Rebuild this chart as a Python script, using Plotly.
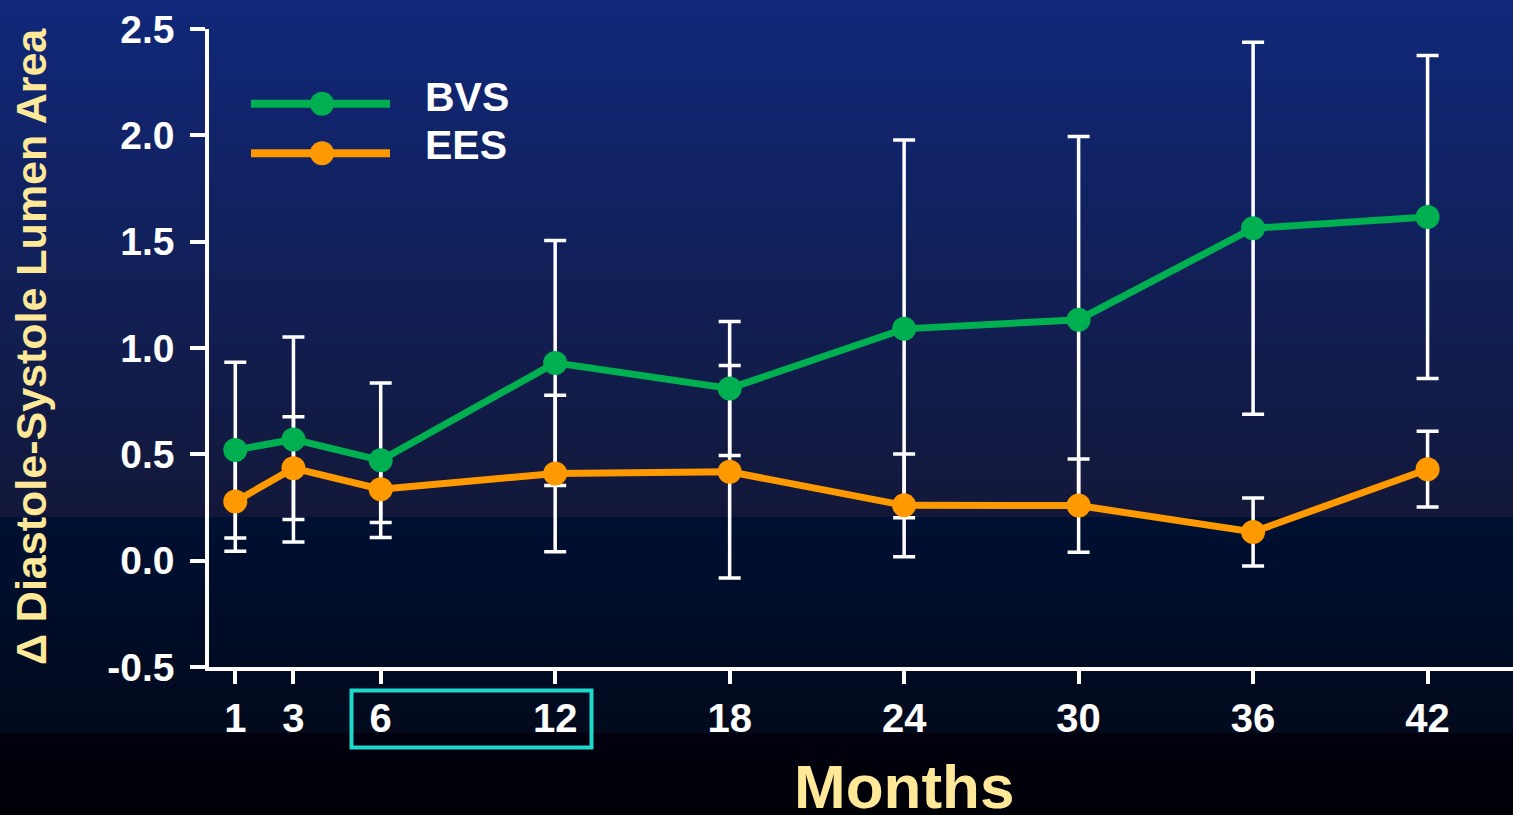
import plotly.graph_objects as go

# Follow-up time points (months)
months = [1, 3, 6, 12, 18, 24, 30, 36, 42]
tick_labels = ["1", "3", "6", "12", "18", "24", "30", "36", "42"]

# Mean change in diastole-systole lumen area and its SD, per device
bvs_mean = [0.52, 0.57, 0.472, 0.93, 0.81, 1.09, 1.133, 1.563, 1.616]
bvs_sd = [0.413, 0.482, 0.363, 0.576, 0.315, 0.888, 0.861, 0.875, 0.759]
ees_mean = [0.278, 0.435, 0.336, 0.41, 0.418, 0.26, 0.259, 0.135, 0.43]
ees_sd = [0.234, 0.242, 0.156, 0.368, 0.50, 0.242, 0.219, 0.16, 0.178]

y_ticks = [-0.5, 0.0, 0.5, 1.0, 1.5, 2.0, 2.5]

GREEN = "#00b050"
ORANGE = "#ff9900"
CYAN = "#1ed8cb"
TITLE_YELLOW = "#ffe999"
FONT = "Arial, Liberation Sans, sans-serif"

W, H = 1513, 815
M_L, M_R, M_T, M_B = 209, 0, 29, 148
PW, PH = W - M_L - M_R, H - M_T - M_B


def px_to_paper_x(px):
    return (px - M_L) / PW


def px_to_paper_y(py):
    return (H - M_B - py) / PH


def hex_to_rgb(h):
    h = h.lstrip("#")
    return tuple(int(h[i:i + 2], 16) for i in (0, 2, 4))


def mix(c0, c1, t):
    a, b = hex_to_rgb(c0), hex_to_rgb(c1)
    return "rgb(%d,%d,%d)" % tuple(round(a[i] + (b[i] - a[i]) * t) for i in range(3))


# Slide background: vertical gradient built from thin horizontal bands
bg_segments = [
    (0, 517, "#10287a", "#131839"),
    (517, 733, "#001032", "#020a1c"),
    (733, 815, "#00000f", "#000006"),
]
shapes = []
step = 4
for top, bottom, c0, c1 in bg_segments:
    y = top
    while y < bottom:
        y2 = min(y + step, bottom)
        t = (y - top) / max(bottom - top, 1)
        shapes.append(dict(
            type="rect", xref="paper", yref="paper", layer="below",
            x0=px_to_paper_x(0), x1=px_to_paper_x(W),
            y0=px_to_paper_y(y2 + 0.5), y1=px_to_paper_y(y),
            fillcolor=mix(c0, c1, t), line=dict(width=0),
        ))
        y = y2

fig = go.Figure()

# Error bars first so that both series' lines and markers sit above them
for mean, sd in ((bvs_mean, bvs_sd), (ees_mean, ees_sd)):
    fig.add_trace(go.Scatter(
        x=months, y=mean, mode="markers",
        marker=dict(size=1, color="rgba(0,0,0,0)"),
        error_y=dict(type="data", array=sd, visible=True,
                     color="white", thickness=3.5, width=11),
        showlegend=False, hoverinfo="skip",
    ))

fig.add_trace(go.Scatter(
    x=months, y=ees_mean, mode="lines+markers", name="EES",
    line=dict(color=ORANGE, width=7),
    marker=dict(color=ORANGE, size=24),
    showlegend=False,
))
fig.add_trace(go.Scatter(
    x=months, y=bvs_mean, mode="lines+markers", name="BVS",
    line=dict(color=GREEN, width=7),
    marker=dict(color=GREEN, size=24),
    showlegend=False,
))

# Key: line samples with a centred dot, labelled to the right
for name, color, py in (("BVS", GREEN, 103.7), ("EES", ORANGE, 153.3)):
    yp = px_to_paper_y(py)
    shapes.append(dict(type="line", xref="paper", yref="paper",
                       x0=px_to_paper_x(251), x1=px_to_paper_x(390), y0=yp, y1=yp,
                       line=dict(color=color, width=8)))
    shapes.append(dict(type="circle", xref="paper", yref="paper",
                       xsizemode="pixel", ysizemode="pixel",
                       xanchor=px_to_paper_x(322), yanchor=yp,
                       x0=-12, x1=12, y0=-12, y1=12,
                       fillcolor=color, line=dict(width=0)))

# Highlight box around the 6-12 month ticks
shapes.append(dict(type="rect", xref="paper", yref="paper",
                   x0=px_to_paper_x(351.5), x1=px_to_paper_x(591.5),
                   y0=px_to_paper_y(747.5), y1=px_to_paper_y(690.5),
                   line=dict(color=CYAN, width=4)))

annotations = [
    dict(text="BVS", xref="paper", yref="paper",
         x=px_to_paper_x(423), y=px_to_paper_y(97.5),
         xanchor="left", yanchor="middle", showarrow=False,
         font=dict(family=FONT, size=41, color="white", weight="bold")),
    dict(text="EES", xref="paper", yref="paper",
         x=px_to_paper_x(423), y=px_to_paper_y(144.5),
         xanchor="left", yanchor="middle", showarrow=False,
         font=dict(family=FONT, size=41, color="white", weight="bold")),
    dict(text="Δ Diastole-Systole Lumen Area", xref="paper", yref="paper",
         x=px_to_paper_x(31), y=px_to_paper_y(347), textangle=-90,
         xanchor="center", yanchor="middle", showarrow=False,
         font=dict(family=FONT, size=43, color=TITLE_YELLOW, weight="bold")),
    dict(text="Months", xref="paper", yref="paper",
         x=px_to_paper_x(904), y=px_to_paper_y(786),
         xanchor="center", yanchor="middle", showarrow=False,
         font=dict(family=FONT, size=62, color=TITLE_YELLOW, weight="bold")),
]

k = 29.08
x0 = 1 - (235.3 - M_L) / k
fig.update_layout(
    width=W, height=H,
    margin=dict(l=M_L, r=M_R, t=M_T, b=M_B, pad=0),
    paper_bgcolor="#000008",
    plot_bgcolor="rgba(0,0,0,0)",
    shapes=shapes,
    annotations=annotations,
    showlegend=False,
    xaxis=dict(
        range=[x0, x0 + PW / k],
        tickmode="array", tickvals=months, ticktext=tick_labels,
        showgrid=False, zeroline=False,
        showline=True, linecolor="white", linewidth=3.5,
        ticks="outside", ticklen=13, tickwidth=3.5, tickcolor="white",
        tickfont=dict(family=FONT, size=40, color="white", weight="bold"),
        ticklabelstandoff=0,
    ),
    yaxis=dict(
        range=[-0.5, 2.5],
        tickmode="array", tickvals=y_ticks,
        ticktext=["%.1f" % v for v in y_ticks],
        showgrid=False, zeroline=False,
        showline=True, linecolor="white", linewidth=3.5,
        ticks="outside", ticklen=15, tickwidth=3.5, tickcolor="white",
        tickfont=dict(family=FONT, size=39, color="white", weight="bold"),
        ticklabelstandoff=8,
    ),
)

fig.write_html("out.html")
